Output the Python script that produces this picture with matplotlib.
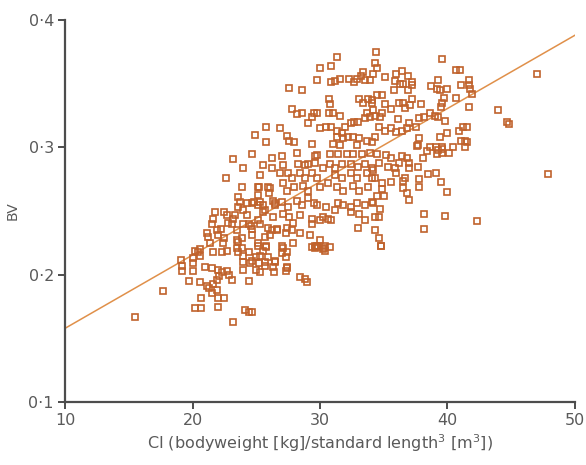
import matplotlib
matplotlib.use("Agg")
import matplotlib.pyplot as plt

# CI (bodyweight / standard length^3) vs BV
ci = [15.5, 17.7,
      19.1, 19.2, 19.2, 20.0, 20.0, 19.7, 20.0, 20.2, 20.4, 20.6, 22.0, 21.9, 22.0, 22.5, 22.0, 22.9, 23.1, 22.3, 21.9, 21.2, 20.6,
      21.0, 21.5, 21.1, 21.3, 21.6, 21.9, 22.1, 22.7, 21.5, 20.7, 20.2, 20.7, 24.1, 24.4, 24.7, 23.2, 24.4, 24.0, 24.0, 24.0, 23.9,
      23.5, 24.5, 25.0, 25.3, 25.2, 25.0, 25.7, 25.9, 26.5, 25.8, 25.5, 25.1, 24.4, 23.6, 23.5, 23.9, 25.7, 26.2, 26.6, 25.9, 25.3,
      24.6, 24.0, 23.5, 22.7, 22.3, 21.6, 20.6, 21.4, 22.0, 22.4, 22.5, 22.2, 21.5, 21.1, 21.6, 22.5, 22.7, 21.8, 22.8, 23.2, 23.3,
      23.1, 24.3, 24.0, 23.6, 23.7, 23.6, 23.9, 24.3, 24.7, 25.1, 25.5, 25.5, 25.1, 25.2, 25.9, 26.0, 26.3, 26.5, 24.4, 24.7, 24.7,
      23.6, 23.2, 24.0, 22.6,
      # upper middle
      31.3, 30.9, 30.0, 29.8, 30.9, 31.2, 31.6, 32.3, 32.7, 32.9, 33.2, 33.4, 33.5, 33.9, 34.3, 34.4, 34.5, 27.6, 28.6, 27.8,
      28.6, 28.2, 29.5, 29.8, 29.4, 29.1, 30.7, 30.8, 30.7, 31.0, 31.6, 33.1, 33.4, 33.8, 34.1, 34.5, 34.2, 33.7, 24.9, 25.8,
      26.9, 25.8, 27.4, 27.6, 28.0, 29.4, 30.0, 30.5, 30.9, 31.3, 31.7, 32.0, 32.4, 32.7, 33.0, 33.5, 33.9, 34.3, 31.3, 31.8,
      32.2, 32.6, 33.1, 33.7, 34.1, 34.3, 31.6, 32.9, 31.0,
      # upper right
      34.2, 35.1, 36.0, 36.4, 36.9, 35.9, 36.3, 36.5, 37.2, 37.2, 36.9, 35.8, 34.9, 39.6, 40.7, 41.0, 39.3, 38.7, 39.2, 39.4,
      40.0, 41.1, 41.7, 41.7, 41.8, 41.9, 40.7, 39.7, 39.6, 39.5, 41.7, 44.0, 36.2, 36.5, 36.7, 37.2, 37.1, 37.9, 35.1, 35.6,
      34.9, 34.1, 38.6, 39.0, 39.3, 38.2, 37.8, 39.8, 36.1, 37.0, 37.5, 36.8, 36.4, 36.0, 35.6, 35.1, 34.7, 34.6, 37.8, 37.7,
      38.6, 39.4, 40.0, 39.6, 40.9, 41.2, 41.5, 41.1, 41.4, 40.4, 39.1,
      # lower right
      38.2, 39.8, 42.3, 38.2, 34.3, 34.6, 34.8, 40.0, 37.8, 37.8, 38.5, 39.1, 39.5, 37.0, 36.8, 36.5, 36.5, 36.7, 34.7, 34.6,
      34.2, 35.0, 34.9, 34.9, 35.6, 34.6, 35.2, 35.6, 35.3, 35.9, 36.0, 36.2, 36.4, 36.8, 37.0, 37.0, 37.7, 37.6, 38.1, 38.4,
      39.2, 39.3, 39.6, 40.1, 39.6, 41.4, 41.5, 34.2, 34.1, 34.5,
      # far right
      47.0, 44.7, 44.8, 47.9,
      # dense centre
      24.7, 26.2, 27.0, 28.2, 29.6, 29.8, 30.8, 31.4, 32.1, 32.6, 33.3, 33.9, 34.5,
      25.5, 26.2, 27.1, 28.3, 28.8, 29.1, 29.6, 30.2, 30.8, 31.2, 31.7, 32.4, 33.0, 33.5, 34.1,
      25.3, 26.9, 27.5, 27.8, 28.4, 28.8, 29.4, 29.8, 31.2, 31.7, 32.4, 32.9, 33.7, 34.3,
      25.1, 26.1, 27.1, 27.4, 28.0, 28.7, 29.1, 30.0, 30.6, 31.3, 31.8, 32.6, 33.1, 33.8,
      24.8, 25.3, 25.7, 26.5, 27.0, 27.5, 28.2, 28.6, 29.1, 29.5, 29.8, 30.5, 31.4, 31.8, 32.4, 32.9, 33.5, 34.1,
      26.3, 27.1, 27.6, 27.9, 28.4, 29.4, 30.2, 30.6, 31.2, 32.4, 33.1, 34.3,
      25.1, 27.4, 27.8, 28.4, 29.4, 30.0, 30.9, 33.0, 33.5,
      26.1, 26.6, 27.3, 29.2, 30.0, 29.4, 29.6, 29.8, 30.3, 30.8,
      25.1, 25.8, 27.0, 27.3, 25.3, 24.7, 25.7, 26.3, 27.4, 30.4,
      # lower centre
      27.0, 27.1, 27.4, 27.9, 29.6, 29.8, 30.2, 30.4, 34.8, 26.5, 26.4, 27.3, 27.4, 28.4, 28.8, 29.0]

bv = [0.167, 0.187,
      0.212, 0.207, 0.203, 0.209, 0.203, 0.195, 0.213, 0.219, 0.218, 0.194, 0.204, 0.188, 0.182, 0.182, 0.175, 0.200, 0.196, 0.202, 0.235, 0.230, 0.215,
      0.206, 0.205, 0.191, 0.190, 0.193, 0.196, 0.199, 0.203, 0.186, 0.182, 0.174, 0.174, 0.172, 0.171, 0.171, 0.163, 0.195, 0.204, 0.210, 0.215, 0.221,
      0.221, 0.209, 0.204, 0.202, 0.209, 0.214, 0.210, 0.214, 0.210, 0.223, 0.219, 0.223, 0.218, 0.218, 0.227, 0.229, 0.230, 0.235, 0.236, 0.237, 0.240,
      0.238, 0.240, 0.235, 0.219, 0.218, 0.218, 0.220, 0.225, 0.231, 0.225, 0.229, 0.236, 0.240, 0.233, 0.244, 0.249, 0.247, 0.249, 0.241, 0.244, 0.247,
      0.240, 0.247, 0.251, 0.253, 0.257, 0.261, 0.269, 0.256, 0.256, 0.255, 0.255, 0.249, 0.263, 0.269, 0.269, 0.264, 0.258, 0.256, 0.240, 0.236, 0.231,
      0.226, 0.291, 0.284, 0.276,
      0.371, 0.364, 0.362, 0.353, 0.351, 0.352, 0.354, 0.354, 0.351, 0.354, 0.356, 0.359, 0.353, 0.353, 0.366, 0.375, 0.362, 0.347, 0.345, 0.330,
      0.327, 0.326, 0.327, 0.327, 0.324, 0.319, 0.338, 0.334, 0.327, 0.327, 0.325, 0.338, 0.335, 0.338, 0.335, 0.341, 0.329, 0.327, 0.310, 0.316,
      0.315, 0.304, 0.309, 0.305, 0.304, 0.303, 0.315, 0.316, 0.316, 0.313, 0.311, 0.316, 0.319, 0.320, 0.320, 0.323, 0.324, 0.325, 0.308, 0.307,
      0.308, 0.308, 0.307, 0.305, 0.304, 0.308, 0.302, 0.302, 0.303,
      0.358, 0.355, 0.358, 0.360, 0.356, 0.352, 0.350, 0.350, 0.351, 0.349, 0.345, 0.345, 0.341, 0.369, 0.361, 0.361, 0.353, 0.348, 0.346, 0.345,
      0.346, 0.349, 0.353, 0.349, 0.346, 0.342, 0.339, 0.339, 0.335, 0.332, 0.332, 0.329, 0.335, 0.335, 0.331, 0.338, 0.333, 0.334, 0.334, 0.330,
      0.327, 0.337, 0.327, 0.325, 0.324, 0.324, 0.323, 0.321, 0.322, 0.319, 0.316, 0.315, 0.313, 0.312, 0.315, 0.313, 0.324, 0.316, 0.307, 0.302,
      0.300, 0.308, 0.311, 0.299, 0.313, 0.316, 0.316, 0.305, 0.305, 0.300, 0.300,
      0.248, 0.246, 0.242, 0.236, 0.235, 0.229, 0.223, 0.265, 0.269, 0.275, 0.279, 0.280, 0.273, 0.259, 0.264, 0.268, 0.274, 0.276, 0.252, 0.245,
      0.256, 0.262, 0.267, 0.272, 0.273, 0.288, 0.294, 0.292, 0.285, 0.284, 0.280, 0.288, 0.293, 0.292, 0.288, 0.284, 0.285, 0.301, 0.292, 0.297,
      0.295, 0.298, 0.300, 0.296, 0.296, 0.300, 0.304, 0.282, 0.276, 0.262,
      0.358, 0.320, 0.318, 0.279,
      0.295, 0.292, 0.293, 0.296, 0.293, 0.294, 0.295, 0.295, 0.295, 0.295, 0.295, 0.296, 0.295,
      0.286, 0.284, 0.286, 0.287, 0.286, 0.287, 0.288, 0.284, 0.287, 0.284, 0.287, 0.287, 0.285, 0.287, 0.284,
      0.278, 0.280, 0.280, 0.276, 0.280, 0.276, 0.280, 0.276, 0.278, 0.276, 0.280, 0.276, 0.280, 0.276,
      0.269, 0.268, 0.272, 0.266, 0.269, 0.270, 0.266, 0.269, 0.272, 0.269, 0.266, 0.270, 0.266, 0.269,
      0.257, 0.257, 0.251, 0.255, 0.257, 0.253, 0.258, 0.255, 0.260, 0.256, 0.255, 0.253, 0.256, 0.255, 0.253, 0.256, 0.255, 0.257,
      0.245, 0.248, 0.245, 0.241, 0.247, 0.244, 0.245, 0.244, 0.251, 0.249, 0.248, 0.245,
      0.243, 0.237, 0.235, 0.233, 0.240, 0.243, 0.243, 0.237, 0.243,
      0.231, 0.235, 0.233, 0.231, 0.227, 0.222, 0.221, 0.223, 0.221, 0.222,
      0.225, 0.222, 0.217, 0.214, 0.215, 0.211, 0.207, 0.206, 0.206, 0.219,
      0.223, 0.221, 0.218, 0.225, 0.223, 0.222, 0.220, 0.223, 0.223, 0.211, 0.202, 0.203, 0.205, 0.198, 0.197, 0.194]

# fitted line end points
fit_x = [10, 50]
fit_y = [0.158, 0.388]

xticks = [10, 20, 30, 40, 50]
yticks = [0.1, 0.2, 0.3, 0.4]
ylabels = ['0·1', '0·2', '0·3', '0·4']

fig = plt.figure(figsize=(5.86, 4.65), dpi=100)
ax = fig.add_axes([0.111, 0.135, 0.870, 0.822])

ax.plot(fit_x, fit_y, color='#e0904a', lw=1.1, zorder=1)
ax.plot(ci, bv, ls='none', marker='s', ms=4.6, mfc='none', mec='#c0622c', mew=1.2, zorder=2)

ax.set_xlim(10, 50)
ax.set_ylim(0.1, 0.4)
ax.set_xticks(xticks)
ax.set_yticks(yticks)
ax.set_yticklabels(ylabels)

for s in ['top', 'right']:
    ax.spines[s].set_visible(False)
for s in ['left', 'bottom']:
    ax.spines[s].set_color('#4d4d4d')
    ax.spines[s].set_linewidth(1.6)
ax.tick_params(colors='#4d4d4d', labelcolor='#5a5a5a', labelsize=11.5, length=5, width=1.4,
               direction='out', pad=3)

ax.set_ylabel('BV', fontsize=10, color='#5a5a5a', labelpad=6)
ax.set_xlabel('CI (bodyweight [kg]/standard length$^3$ [m$^3$])', fontsize=11.5, color='#5a5a5a', labelpad=3)

fig.savefig('out.png', dpi=100)
